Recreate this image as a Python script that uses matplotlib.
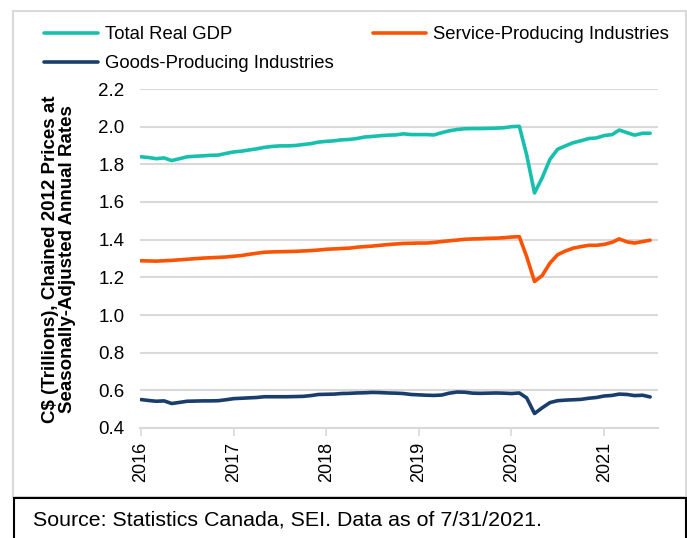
import numpy as np
import pandas as pd
import matplotlib
matplotlib.use("Agg")
import matplotlib.pyplot as plt
import matplotlib.dates as mdates
from matplotlib.patches import Rectangle

plt.rcParams['font.family'] = ['Liberation Sans', 'DejaVu Sans']

# monthly, Jan 2016 - Jul 2021, C$ trillions (chained 2012)
months = pd.date_range('2016-01-01', periods=67, freq='MS')

total_gdp = [
    1.840, 1.836, 1.830, 1.834, 1.820, 1.830, 1.840, 1.843, 1.845, 1.848, 1.849, 1.858,
    1.866, 1.870, 1.876, 1.882, 1.890, 1.895, 1.898, 1.898, 1.900, 1.905, 1.910, 1.918,
    1.922, 1.925, 1.930, 1.932, 1.937, 1.945, 1.948, 1.952, 1.955, 1.956, 1.962, 1.958,
    1.958, 1.958, 1.956, 1.968, 1.978, 1.985, 1.989, 1.990, 1.990, 1.991, 1.992, 1.994,
    2.000, 2.002, 1.850, 1.648, 1.728, 1.827, 1.880, 1.898, 1.915, 1.925, 1.937, 1.940,
    1.953, 1.958, 1.982, 1.968, 1.955, 1.965, 1.965,
]

services = [
    1.288, 1.287, 1.286, 1.288, 1.290, 1.293, 1.296, 1.299, 1.302, 1.304, 1.306, 1.308,
    1.312, 1.316, 1.322, 1.328, 1.333, 1.335, 1.336, 1.337, 1.338, 1.340, 1.342, 1.345,
    1.349, 1.351, 1.353, 1.355, 1.360, 1.363, 1.366, 1.370, 1.374, 1.377, 1.380, 1.381,
    1.382, 1.382, 1.385, 1.390, 1.394, 1.398, 1.402, 1.404, 1.405, 1.407, 1.408, 1.410,
    1.414, 1.416, 1.310, 1.178, 1.209, 1.276, 1.320, 1.340, 1.355, 1.363, 1.370, 1.370,
    1.375, 1.386, 1.404, 1.388, 1.382, 1.390, 1.397,
]

goods = [
    0.551, 0.546, 0.542, 0.544, 0.530, 0.536, 0.542, 0.543, 0.544, 0.544, 0.545, 0.550,
    0.556, 0.558, 0.560, 0.562, 0.566, 0.566, 0.566, 0.566, 0.567, 0.568, 0.572, 0.578,
    0.579, 0.580, 0.583, 0.584, 0.586, 0.587, 0.589, 0.588, 0.586, 0.585, 0.583, 0.578,
    0.576, 0.574, 0.573, 0.575, 0.585, 0.591, 0.590, 0.585, 0.584, 0.585, 0.586, 0.585,
    0.583, 0.586, 0.560, 0.477, 0.507, 0.535, 0.545, 0.548, 0.550, 0.552, 0.558, 0.562,
    0.570, 0.573, 0.580, 0.578, 0.572, 0.574, 0.565,
]

fig = plt.figure(figsize=(6.87, 5.38), dpi=100)
ax = fig.add_axes([140 / 687, 110 / 538, 518 / 687, 339 / 538])

l_tot, = ax.plot(months, total_gdp, color='#17c0ad', lw=2.6, label='Total Real GDP', solid_capstyle='round')
l_srv, = ax.plot(months, services, color='#fa5304', lw=2.6, label='Service-Producing Industries', solid_capstyle='round')
l_gds, = ax.plot(months, goods, color='#1a3e6c', lw=2.6, label='Goods-Producing Industries', solid_capstyle='round')

ax.set_ylim(0.4, 2.2)
ax.set_yticks(np.arange(0.4, 2.21, 0.2))
ax.yaxis.set_major_formatter(matplotlib.ticker.FormatStrFormatter('%.1f'))
ax.set_xlim(pd.Timestamp('2015-12-28'), pd.Timestamp('2021-08-01'))
ax.xaxis.set_major_locator(mdates.YearLocator())
ax.xaxis.set_major_formatter(mdates.DateFormatter('%Y'))

ax.grid(axis='y', color='#d9d9d9', lw=1.5)
ax.set_axisbelow(True)
for s in ['top', 'right', 'left']:
    ax.spines[s].set_visible(False)
ax.spines['bottom'].set_color('#d9d9d9')
ax.spines['bottom'].set_linewidth(1.5)
ax.tick_params(axis='y', length=0, labelsize=13.5, pad=11)
ax.tick_params(axis='x', length=6, width=1.2, color='#d9d9d9', labelsize=13, labelrotation=90, pad=4)

fig.text(59 / 687, 1 - 259 / 538,
         'C$ (Trillions), Chained 2012 Prices at\nSeasonally-Adjusted Annual Rates',
         rotation=90, ha='center', va='center', multialignment='center',
         fontsize=13.5, fontweight='bold', linespacing=1.0)

# column-wise fill: Total / Goods in col 1, Service in col 2
fig.legend([l_tot, l_gds, l_srv],
           ['Total Real GDP', 'Goods-Producing Industries', 'Service-Producing Industries'],
           loc='upper left', bbox_to_anchor=(44 / 687, 1 - 26 / 538), ncol=2, frameon=False,
           fontsize=13.3, handlelength=2.9, handletextpad=0.4, columnspacing=2.1,
           labelspacing=0.65, borderpad=0, borderaxespad=0)

fig.patches.append(Rectangle((13 / 687, 1 - 497 / 538), 673 / 687, 486 / 538,
                             transform=fig.transFigure, fill=False, ec='#d9d9d9', lw=1.5))
fig.patches.append(Rectangle((14 / 687, -0.02), 672 / 687, 40 / 538 + 0.02,
                             transform=fig.transFigure, fill=False, ec='black', lw=1.5))
fig.text(33 / 687, 1 - 520 / 538, 'Source: Statistics Canada, SEI. Data as of 7/31/2021.',
         fontsize=15.4, ha='left', va='center')

fig.savefig('out.png', dpi=100)
